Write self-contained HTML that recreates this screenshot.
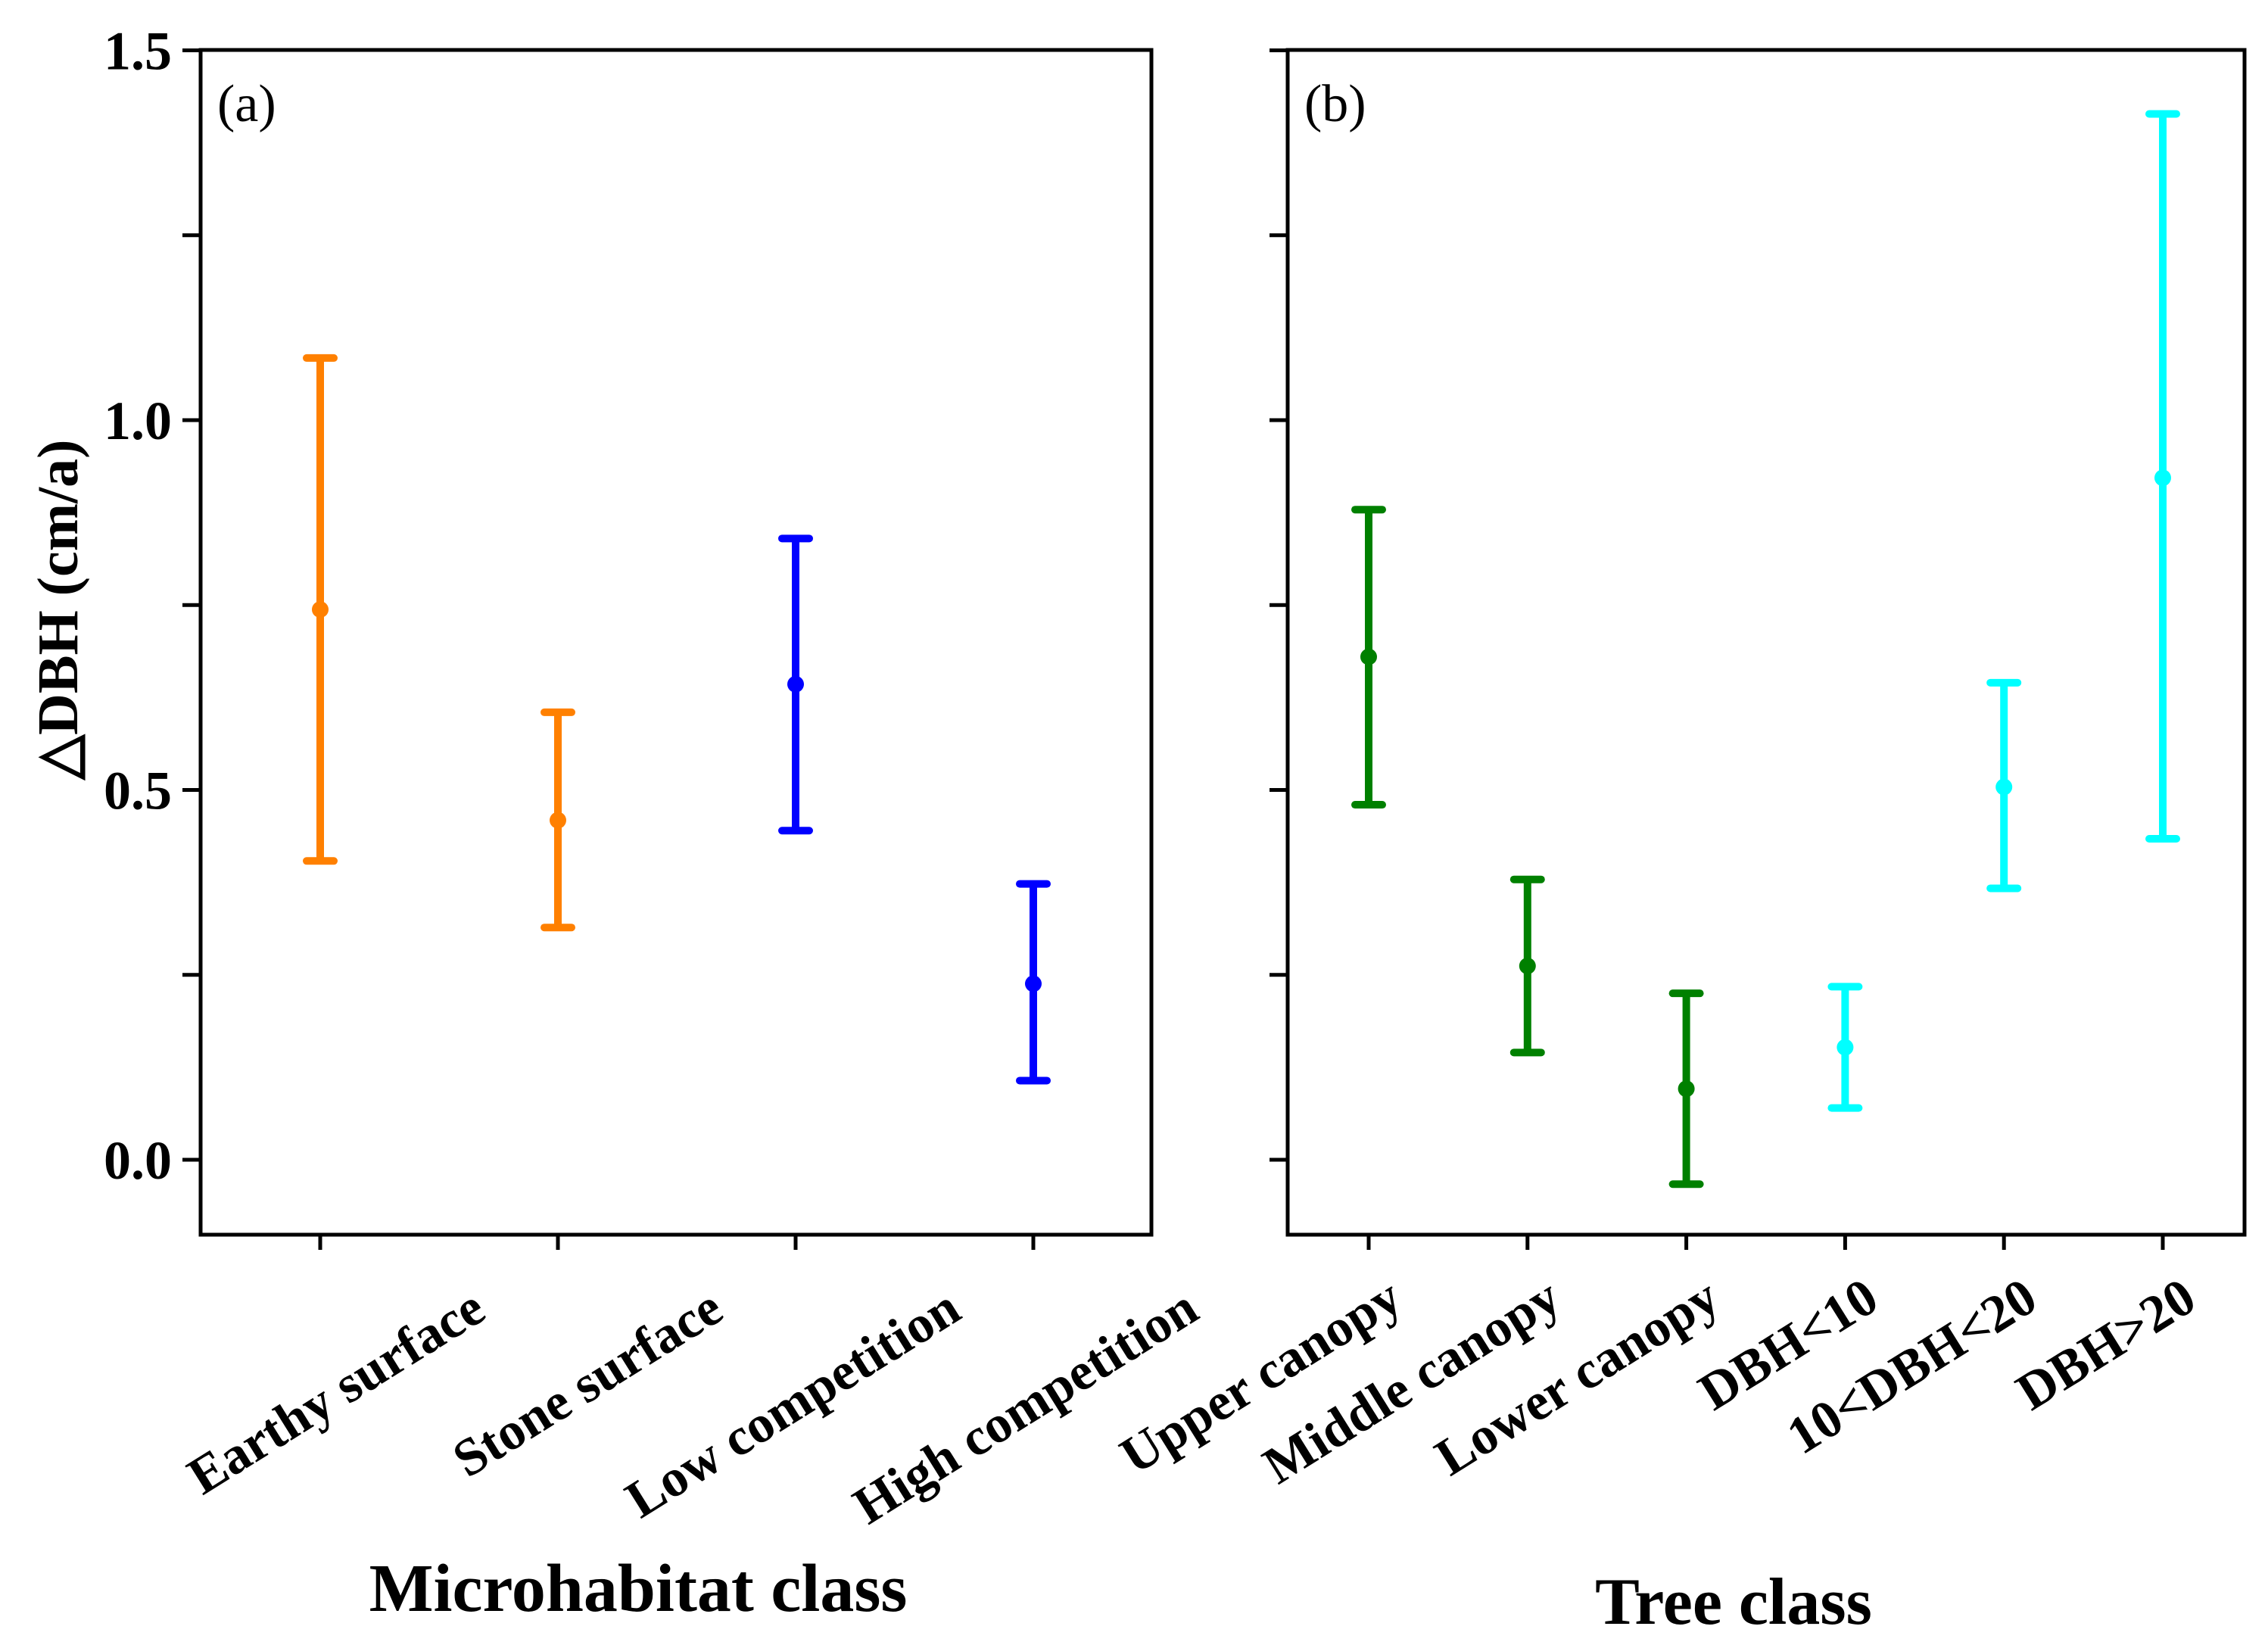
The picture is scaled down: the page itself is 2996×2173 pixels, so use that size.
<!DOCTYPE html>
<html><head><meta charset="utf-8"><style>
html,body{margin:0;padding:0;background:#fff;}
svg{display:block;font-family:"Liberation Serif",serif;font-weight:bold;}
</style></head><body>
<svg id="chart" width="2996" height="2173" viewBox="0 0 2996 2173" xmlns="http://www.w3.org/2000/svg"></svg>
<script>
const catsA = ["Earthy surface","Stone surface","Low competition","High competition"];
const meanA = [0.744,0.459,0.643,0.238];
const upA = [1.084,0.605,0.840,0.373];
const lowA = [0.404,0.314,0.445,0.107];
const colA = ["#ff8000","#ff8000","#0000ff","#0000ff"];
const catsB = ["Upper canopy","Middle canopy","Lower canopy","DBH<10","10<DBH<20","DBH>20"];
const meanB = [0.680,0.262,0.096,0.152,0.504,0.922];
const upB = [0.879,0.379,0.225,0.234,0.645,1.414];
const lowB = [0.480,0.145,-0.033,0.070,0.367,0.434];
const colB = ["#008000","#008000","#008000","#00ffff","#00ffff","#00ffff"];
const yTicks = [0,0.25,0.5,0.75,1.0,1.25,1.5];
const yLabels = ["0.0","","0.5","","1.0","","1.5"];

const NS="http://www.w3.org/2000/svg";
const svg=document.getElementById('chart');
function mk(tag,attrs,parent){const e=document.createElementNS(NS,tag);for(const k in attrs)e.setAttribute(k,attrs[k]);(parent||svg).appendChild(e);return e;}
const topY=66,bottomY=1631;
function y(v){return 1532-(v)*(1532-66.5)/1.5;}

function panel(opts){
  const g=mk('g',{});
  
  
  const n=opts.cats.length;
  const x=i=>opts.x0+i*opts.step;
  const fr=mk('rect',{x:opts.left,y:topY,width:opts.right-opts.left,height:bottomY-topY,fill:'none',stroke:'#000','stroke-width':5},g);
  
  
  yTicks.forEach((t,i)=>{
    const tk=mk('line',{x1:opts.left-24,x2:opts.left,y1:y(t),y2:y(t),stroke:'#000','stroke-width':5},g);
    
    
    if(opts.showY&&yLabels[i]){
      const tl=mk('text',{x:opts.left-38,y:y(t)+25,'text-anchor':'end','font-size':72},g);
      tl.textContent=yLabels[i];
      
      
    }
  });
  for(let i=0;i<n;i++){
    const xi=x(i);
    const bt=mk('line',{x1:xi,x2:xi,y1:bottomY,y2:bottomY+20,stroke:'#000','stroke-width':5},g);
    
    
    const c=opts.cols[i];
    const eb=mk('g',{},g);
    
    
    mk('line',{x1:xi,x2:xi,y1:y(opts.up[i]),y2:y(opts.low[i]),stroke:c,'stroke-width':10},eb);
    mk('line',{x1:xi-18,x2:xi+18,y1:y(opts.up[i]),y2:y(opts.up[i]),stroke:c,'stroke-width':10,'stroke-linecap':'round'},eb);
    mk('line',{x1:xi-18,x2:xi+18,y1:y(opts.low[i]),y2:y(opts.low[i]),stroke:c,'stroke-width':10,'stroke-linecap':'round'},eb);
    const pt=mk('circle',{cx:xi,cy:y(opts.mean[i]),r:11,fill:c},eb);
    
    
    const ex=xi+opts.labelDx, ey=opts.labelEy;
    const lb=mk('text',{x:ex,y:ey,'text-anchor':'end','font-size':70,transform:`rotate(-32 ${ex} ${ey})`},g);
    lb.textContent=opts.cats[i];
    
    
  }
  const pl=mk('text',{x:opts.left+22,y:160,'font-size':70,'font-weight':'normal'},g);
  pl.textContent=opts.tag;
  
  
  const xt=mk('text',{x:opts.titleX,y:opts.titleY,'text-anchor':'middle','font-size':opts.titleSize},g);
  xt.textContent=opts.title;
  
  
}
panel({name:'panel-a',cats:catsA,mean:meanA,up:upA,low:lowA,cols:colA,left:265,right:1521,x0:423,step:314,showY:true,labelDx:222,labelEy:1740,tag:'(a)',title:'Microhabitat class',titleX:843,titleY:2128,titleSize:90});
panel({name:'panel-b',cats:catsB,mean:meanB,up:upB,low:lowB,cols:colB,left:1701,right:2965,x0:1808,step:209.8,showY:false,labelDx:48,labelEy:1726,tag:'(b)',title:'Tree class',titleX:2290,titleY:2145,titleSize:88});
const yt=mk('text',{x:0,y:0,'text-anchor':'middle','font-size':76,transform:'translate(102 805) rotate(-90)'});
yt.textContent='\u25B3DBH (cm/a)';


</script>
</body></html>
